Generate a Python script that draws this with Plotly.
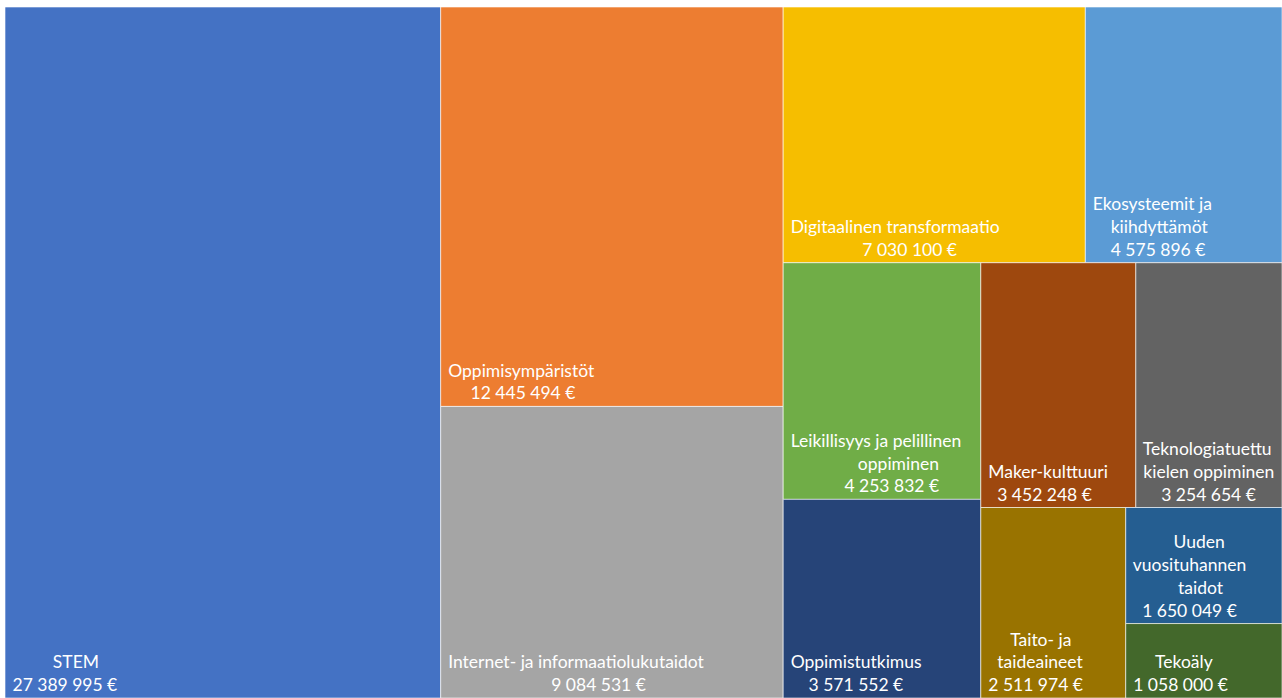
import plotly.graph_objects as go

categories = [
    "STEM", "Oppimisympäristöt", "Internet- ja informaatiolukutaidot",
    "Digitaalinen transformaatio", "Ekosysteemit ja kiihdyttämöt",
    "Leikillisyys ja pelillinen oppiminen", "Oppimistutkimus", "Maker-kulttuuri",
    "Teknologiatuettu kielen oppiminen", "Taito- ja taideaineet",
    "Uuden vuosituhannen taidot", "Tekoäly",
]
display_lines = [
    ["STEM"], ["Oppimisympäristöt"], ["Internet- ja informaatiolukutaidot"],
    ["Digitaalinen transformaatio"], ["Ekosysteemit ja", "kiihdyttämöt"],
    ["Leikillisyys ja pelillinen", "oppiminen"], ["Oppimistutkimus"], ["Maker-kulttuuri"],
    ["Teknologiatuettu", "kielen oppiminen"], ["Taito- ja", "taideaineet"],
    ["Uuden", "vuosituhannen", "taidot"], ["Tekoäly"],
]
values = [27389995, 12445494, 9084531, 7030100, 4575896, 4253832,
          3571552, 3452248, 3254654, 2511974, 1650049, 1058000]
colors = ["#4472C4", "#ED7D31", "#A5A5A5", "#F6BE00", "#5B9BD5", "#70AD47",
          "#264478", "#9E480E", "#636363", "#997300", "#255E91", "#43682B"]


def text_width(s):
    w = 0.0
    for ch in s:
        if ch in "ijl.,'|":
            w += 0.23
        elif ch in " -t":
            w += 0.3
        elif ch in "fr":
            w += 0.34
        elif ch in "mw":
            w += 0.8
        elif ch.isdigit() or ch == "€":
            w += 0.58
        elif ch.isupper():
            w += 0.64
        else:
            w += 0.52
    return w


NBSP_W = 0.193


def centered(lines):
    widths = [text_width(l) for l in lines]
    mx = max(widths)
    out = []
    for l, w in zip(lines, widths):
        pad = 1 + int(round((mx - w) / 2 / NBSP_W))
        out.append("\u00a0" * pad + l)
    return "<br>".join(out)


texts = [centered(lines + [format(v, ",").replace(",", " ") + " €"])
         for lines, v in zip(display_lines, values)]

fig = go.Figure(go.Treemap(
    labels=categories,
    parents=[""] * len(categories),
    values=values,
    text=texts,
    texttemplate="%{text}",
    textposition="bottom left",
    sort=True,
    marker=dict(colors=colors, line=dict(color="rgba(255,255,255,0.6)", width=1),
                pad=dict(t=0, l=0, r=0, b=0)),
    tiling=dict(packing="squarify", squarifyratio=1, pad=0),
    pathbar=dict(visible=False),
    insidetextfont=dict(color="white", size=17.5, family="Lato"),
    hoverinfo="label+value",
))
fig.update_layout(
    width=1282, height=698,
    margin=dict(l=5, r=0, t=7, b=0),
    paper_bgcolor="white",
    uniformtext=dict(minsize=17.5, mode="show"),
)
fig.write_html("out.html", config={"displayModeBar": False},
               post_script="document.body.style.margin='0';")
